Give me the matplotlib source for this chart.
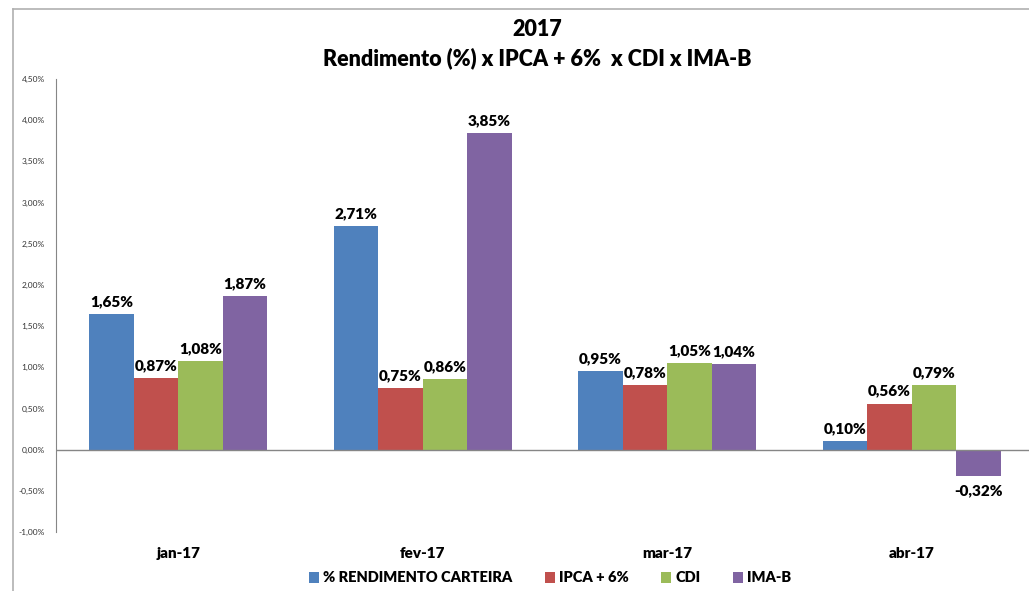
import numpy as np
import matplotlib.pyplot as plt
from matplotlib.lines import Line2D

plt.rcParams['font.family'] = ['Lato', 'DejaVu Sans']

meses = ["jan-17", "fev-17", "mar-17", "abr-17"]
series = ["% RENDIMENTO CARTEIRA", "IPCA + 6%", "CDI", "IMA-B"]
rend_carteira = [1.65, 2.71, 0.95, 0.10]
ipca_6 = [0.87, 0.75, 0.78, 0.56]
cdi = [1.08, 0.86, 1.05, 0.79]
ima_b = [1.87, 3.85, 1.04, -0.32]
cores = ["#4f81bd", "#c0504d", "#9bbb59", "#8064a2"]
yticks = [-1.0, -0.5, 0.0, 0.5, 1.0, 1.5, 2.0, 2.5, 3.0, 3.5, 4.0, 4.5]

W, H = 1029, 591
fig = plt.figure(figsize=(W / 100, H / 100), dpi=100)
# eixo: x de 56 px a ~1034 px, y de 79 px (4,5%) a 532 px (-1%)
ax = fig.add_axes([56 / W, 1 - 532 / H, (1034 - 56) / W, (532 - 79) / H])

x = np.arange(len(meses))
largura = 0.182
dados = [rend_carteira, ipca_6, cdi, ima_b]
for i, (vals, nome, cor) in enumerate(zip(dados, series, cores)):
    pos = x + (i - 1.5) * largura
    ax.bar(pos, vals, largura, color=cor, label=nome, zorder=2)
    for p, v in zip(pos, vals):
        txt = f"{v:.2f}%".replace(".", ",")
        if v >= 0:
            ax.text(p, v + 0.07, txt, ha="center", va="bottom",
                    fontsize=11, fontweight="heavy")
        else:
            ax.text(p, v - 0.1, txt, ha="center", va="top",
                    fontsize=11, fontweight="heavy")

ax.set_xlim(-0.5, 3.5)
ax.set_ylim(-1.0, 4.5)
ax.set_yticks(yticks)
ax.set_yticklabels([f"{t:.2f}%".replace(".", ",") for t in yticks], fontsize=6, color="#333333")
ax.set_xticks(x)
ax.set_xticklabels(meses, fontsize=11, fontweight="heavy")
ax.tick_params(axis="x", length=0, pad=11)
ax.tick_params(axis="y", length=0, pad=8)
for s in ["top", "right", "bottom"]:
    ax.spines[s].set_visible(False)
ax.spines["left"].set_color("#868686")
ax.axhline(0, color="#868686", linewidth=1, zorder=3)

fig.text(537 / W, 1 - 30 / H, "2017", ha="center", va="center",
         fontsize=15.5, fontweight="heavy")
fig.text(537 / W, 1 - 58 / H, "Rendimento (%) x IPCA + 6%  x CDI x IMA-B",
         ha="center", va="center", fontsize=15.5, fontweight="heavy")

leg = fig.legend(loc="center", bbox_to_anchor=(550 / W, 1 - 578 / H), ncol=4,
                 frameon=False, handlelength=0.7, handleheight=0.7,
                 handletextpad=0.3, columnspacing=2.2,
                 prop={"size": 10.5, "weight": "heavy"})

# moldura do grafico (cinza claro)
fig.add_artist(Line2D([13 / W, 13 / W], [0, 1 - 9 / H], transform=fig.transFigure,
                      color="#b0b0b0", linewidth=1.2))
fig.add_artist(Line2D([13 / W, 1], [1 - 9 / H, 1 - 9 / H], transform=fig.transFigure,
                      color="#b0b0b0", linewidth=1.2))

fig.savefig("out.png", dpi=100)
